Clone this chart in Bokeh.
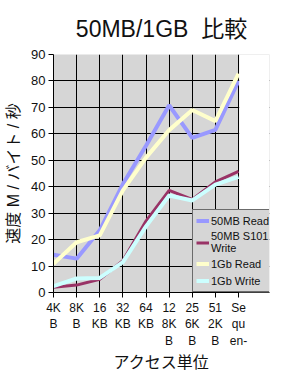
from bokeh.plotting import figure
from bokeh.models import Range1d, FixedTicker, Legend, LegendItem, Title, BoxAnnotation
from bokeh.embed import file_html
from bokeh.resources import INLINE

categories = ["4K\nB", "8K\nB", "16\nKB", "32\nKB", "64\nKB", "12\n8K\nB", "25\n6K\nB", "51\n2K\nB", "Se\nqu\nen-"]
read_50mb = [14.3, 12.8, 23.5, 41, 55.5, 70.8, 58.5, 61.5, 80]
write_50mb = [2.0, 2.8, 5.0, 12, 27, 38.6, 35.2, 41.8, 45.8]
read_1gb = [10.9, 19, 21.6, 38.6, 51, 61.4, 69, 64.8, 82.8]
write_1gb = [2.4, 5.3, 5.5, 11.5, 25, 36.7, 34.8, 40.8, 43.7]
series_names = ["50MB Read", "50MB S101\nWrite", "1Gb Read", "1Gb Write"]
series_colors = ["#9999FF", "#993366", "#FFFFCC", "#CCFFFF"]
series_widths = [4, 3, 4, 4]

FONT = "Liberation Sans, Noto Sans CJK JP, sans-serif"

n_last = len(categories) - 1
# frame extends past the last category so the legend can overhang it (185px plot + 31px overhang)
x_end = n_last * 216 / 185

p = figure(width=289, height=378, output_backend="svg", toolbar_location=None,
           x_range=Range1d(0, x_end), y_range=Range1d(0, 90),
           min_border_left=53, min_border_right=20, min_border_top=54, min_border_bottom=86)
p.title = Title(text="50MB/1GB\u00a0\u00a0比較", align="center", offset=26,
                text_font=FONT, text_font_size="23px", text_font_style="normal",
                text_color="#111111", standoff=26)
p.background_fill_color = "#D6D6D6"
p.border_fill_color = "white"
p.outline_line_color = None

xs = list(range(len(categories)))
p.xaxis.ticker = FixedTicker(ticks=xs)
p.xaxis.major_label_overrides = {i: c for i, c in enumerate(categories)}
p.yaxis.ticker = FixedTicker(ticks=list(range(0, 91, 10)))
p.xgrid.ticker = FixedTicker(ticks=xs)
for g in (p.xgrid, p.ygrid):
    g.grid_line_color = "black"
    g.grid_line_width = 1
    g.grid_line_alpha = 1
for ax in (p.xaxis, p.yaxis):
    ax.axis_line_color = "black"
    ax.major_tick_line_color = "black"
    ax.major_tick_in = 0
    ax.major_tick_out = 5
    ax.minor_tick_line_color = None
    ax.major_label_text_font = FONT
    ax.major_label_text_color = "#111111"
    ax.axis_label_text_font = FONT
    ax.axis_label_text_font_size = "16px"
    ax.axis_label_text_font_style = "normal"
    ax.axis_label_text_color = "#111111"
p.yaxis.major_label_text_font_size = "13px"
p.xaxis.major_label_text_font_size = "12px"
p.xaxis.major_label_standoff = 3
p.yaxis.major_label_standoff = 3
p.xaxis.axis_label = "アクセス単位"
p.yaxis.axis_label = "速度 M / バイト / 秒"
p.xaxis.axis_label_standoff = 3
p.yaxis.axis_label_standoff = 6

items = []
for name, ys, col, w in zip(series_names, [read_50mb, write_50mb, read_1gb, write_1gb], series_colors, series_widths):
    r = p.line(xs, ys, line_color=col, line_width=w)
    items.append(LegendItem(label=name, renderers=[r]))

# white area right of the last category (outside the chart's plot area)
p.add_layout(BoxAnnotation(left=n_last + 0.03, fill_color="white", fill_alpha=1, line_color=None))

legend = Legend(items=items, location=(139, 0), background_fill_color="#D6D6D6",
                background_fill_alpha=1, border_line_color="black", border_line_width=1,
                label_text_font=FONT, label_text_font_size="11px", label_text_color="#111111",
                glyph_width=13, glyph_height=15, label_height=15, spacing=2, padding=3,
                margin=0, label_standoff=2)
p.add_layout(legend, "center")

open("out.html", "w").write(file_html(p, INLINE))
